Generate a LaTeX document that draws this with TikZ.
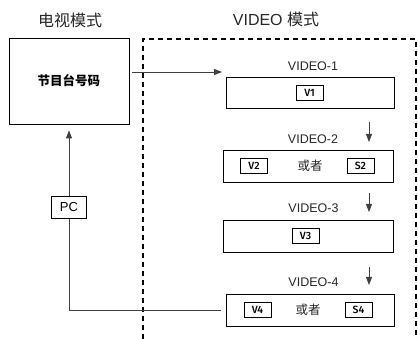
\documentclass[tikz,border=0pt]{standalone}
\usepackage{fontspec}
\setmainfont{Liberation Sans}
\newfontfamily\cjk{Noto Sans CJK SC}
\newfontfamily\tagfont{Fira Sans Medium}
\usetikzlibrary{arrows.meta}

\begin{document}
\begin{tikzpicture}[x=1pt,y=-1pt,
every node/.style={
rectangle,
align = center,
inner sep=0pt,
},
box/.style={
draw,
line width=0.8pt,
fill=white,
},
tag/.style={
box,
font=\tagfont\fontsize{10.5}{12}\selectfont,
minimum width=27pt,
minimum height=15pt,
},
title/.style={
text=black!85,
font=\fontsize{16}{18}\selectfont,
},
vname/.style={
text=black!85,
font=\fontsize{12.5}{14}\selectfont,
},
link/.style={
draw=black!75,
line width=0.8pt,
-{Triangle[length=8pt,width=6pt]},
}]

\useasboundingbox (0,0) rectangle (418,339);

%TV mode
\node[title](tvtitle)at(70,20){\cjk 电视模式};
\node[box,minimum width=120pt,minimum height=86pt](tv)at(69,81){\cjk\bfseries\fontsize{12.5}{14}\selectfont 节目台号码};

%VIDEO mode frame
\node[title](vidtitle)at(276,19){VIDEO {\cjk 模式}};
\draw[line width=1.6pt,dash pattern=on 5pt off 4pt](143,339)--(143,39)--(416,39)--(416,339);

%VIDEO-1
\node[vname](n1)at(313,66){VIDEO-1};
\node[box,minimum width=168pt,minimum height=31pt](v1)at(310,92.5){};
\node[tag](t1)at(309.5,93){V1};

%VIDEO-2
\node[vname](n2)at(313,139.5){VIDEO-2};
\node[box,minimum width=170pt,minimum height=32pt](v2)at(308,166){};
\node[tag](t2a)at(254,166){V2};
\node[vname](or2)at(310,166){\cjk 或者};
\node[tag](t2b)at(360.5,166){S2};

%VIDEO-3
\node[vname](n3)at(313.5,208){VIDEO-3};
\node[box,minimum width=170pt,minimum height=32pt](v3)at(308,236){};
\node[tag](t3)at(305.5,235.5){V3};

%VIDEO-4
\node[vname](n4)at(313.5,282){VIDEO-4};
\node[box,minimum width=168pt,minimum height=32pt](v4)at(310,310){};
\node[tag](t4a)at(257.5,310){V4};
\node[vname](or4)at(308,310){\cjk 或者};
\node[tag](t4b)at(358.5,310){S4};

%step arrows
\coordinate(d1)at(369,122);
\coordinate(d2)at(369,193);
\coordinate(d3)at(369,267);
\draw[link](d1)--++(0,20);
\draw[link](d2)--++(0,19);
\draw[link](d3)--++(0,18);

%TV box to VIDEO-1
\coordinate(in1)at(222,72);
\draw[link,shorten <=3pt](tv.east|-in1)--(in1);

%PC feedback
\draw[link,shorten <=5pt,shorten >=6pt](v4.west)-|(tv.south);
\node[box,minimum width=35pt,minimum height=22pt,font=\fontsize{13}{15}\selectfont](pc)at(69,207){PC};
\end{tikzpicture}
\end{document}
